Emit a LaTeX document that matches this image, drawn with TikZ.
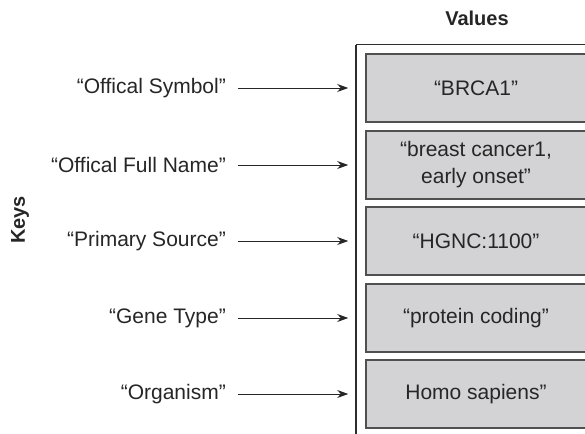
\documentclass[tikz,border=0pt]{standalone}
\usepackage{fontspec}
\setmainfont{Liberation Sans}
\usepackage{xcolor}
\usepackage{tikz}
\usetikzlibrary{arrows.meta, positioning}

\definecolor{boxfill}{RGB}{211,211,213}
\definecolor{boxline}{RGB}{80,80,80}
\definecolor{frameline}{RGB}{45,45,45}

\begin{document}
\begin{tikzpicture}[x=1pt, y=-1pt,
		keytext/.style={anchor=east, inner sep=6pt, font=\fontsize{21}{25}\selectfont, text=black!85},
		valbox/.style={draw=boxline, line width=1.6pt, fill=boxfill, minimum width=220pt, minimum height=68pt,
			align=center, font=\fontsize{21}{27}\selectfont, text=black!85, inner sep=0pt},
		keyarrow/.style={-{Stealth[length=11pt, width=8pt]}, line width=0.9pt, draw=black!85,
			shorten <=6pt, shorten >=17pt},
		heading/.style={font=\bfseries\fontsize{20}{24}\selectfont, text=black!85}]
		\clip (0,0) rectangle (585,433);
		
		% Outer frame of the values
		\draw[frameline, line width=1.2pt] (356,44.7) -- (356,440);
		\draw[frameline, line width=1.2pt] (356,44.7) -- (600,44.7);
		
		% Values
		\node[valbox] (val1) at (476,88) {“BRCA1”};
		\node[valbox] (val2) at (476,165) {“breast cancer1,\\early onset”};
		\node[valbox] (val3) at (476,241) {“HGNC:1100”};
		\node[valbox] (val4) at (476,318) {“protein coding”};
		\node[valbox] (val5) at (476,394) {Homo sapiens”};
		
		% Keys
		\node[keytext] (key1) at (232,88) {“Offical Symbol”};
		\node[keytext] (key2) at (232,165) {“Offical Full Name”};
		\node[keytext] (key3) at (232,241) {“Primary Source”};
		\node[keytext] (key4) at (232,318) {“Gene Type”};
		\node[keytext] (key5) at (232,394) {“Organism”};
		
		% Arrows
		\foreach \i in {1,...,5}
		\draw[keyarrow] (key\i.east) -- (val\i.west);
		
		% Headings
		\node[heading] (valhead) at (477,18) {Values};
		\node[heading, rotate=90] (keyhead) at (20,220) {Keys};
	\end{tikzpicture}
\end{document}
